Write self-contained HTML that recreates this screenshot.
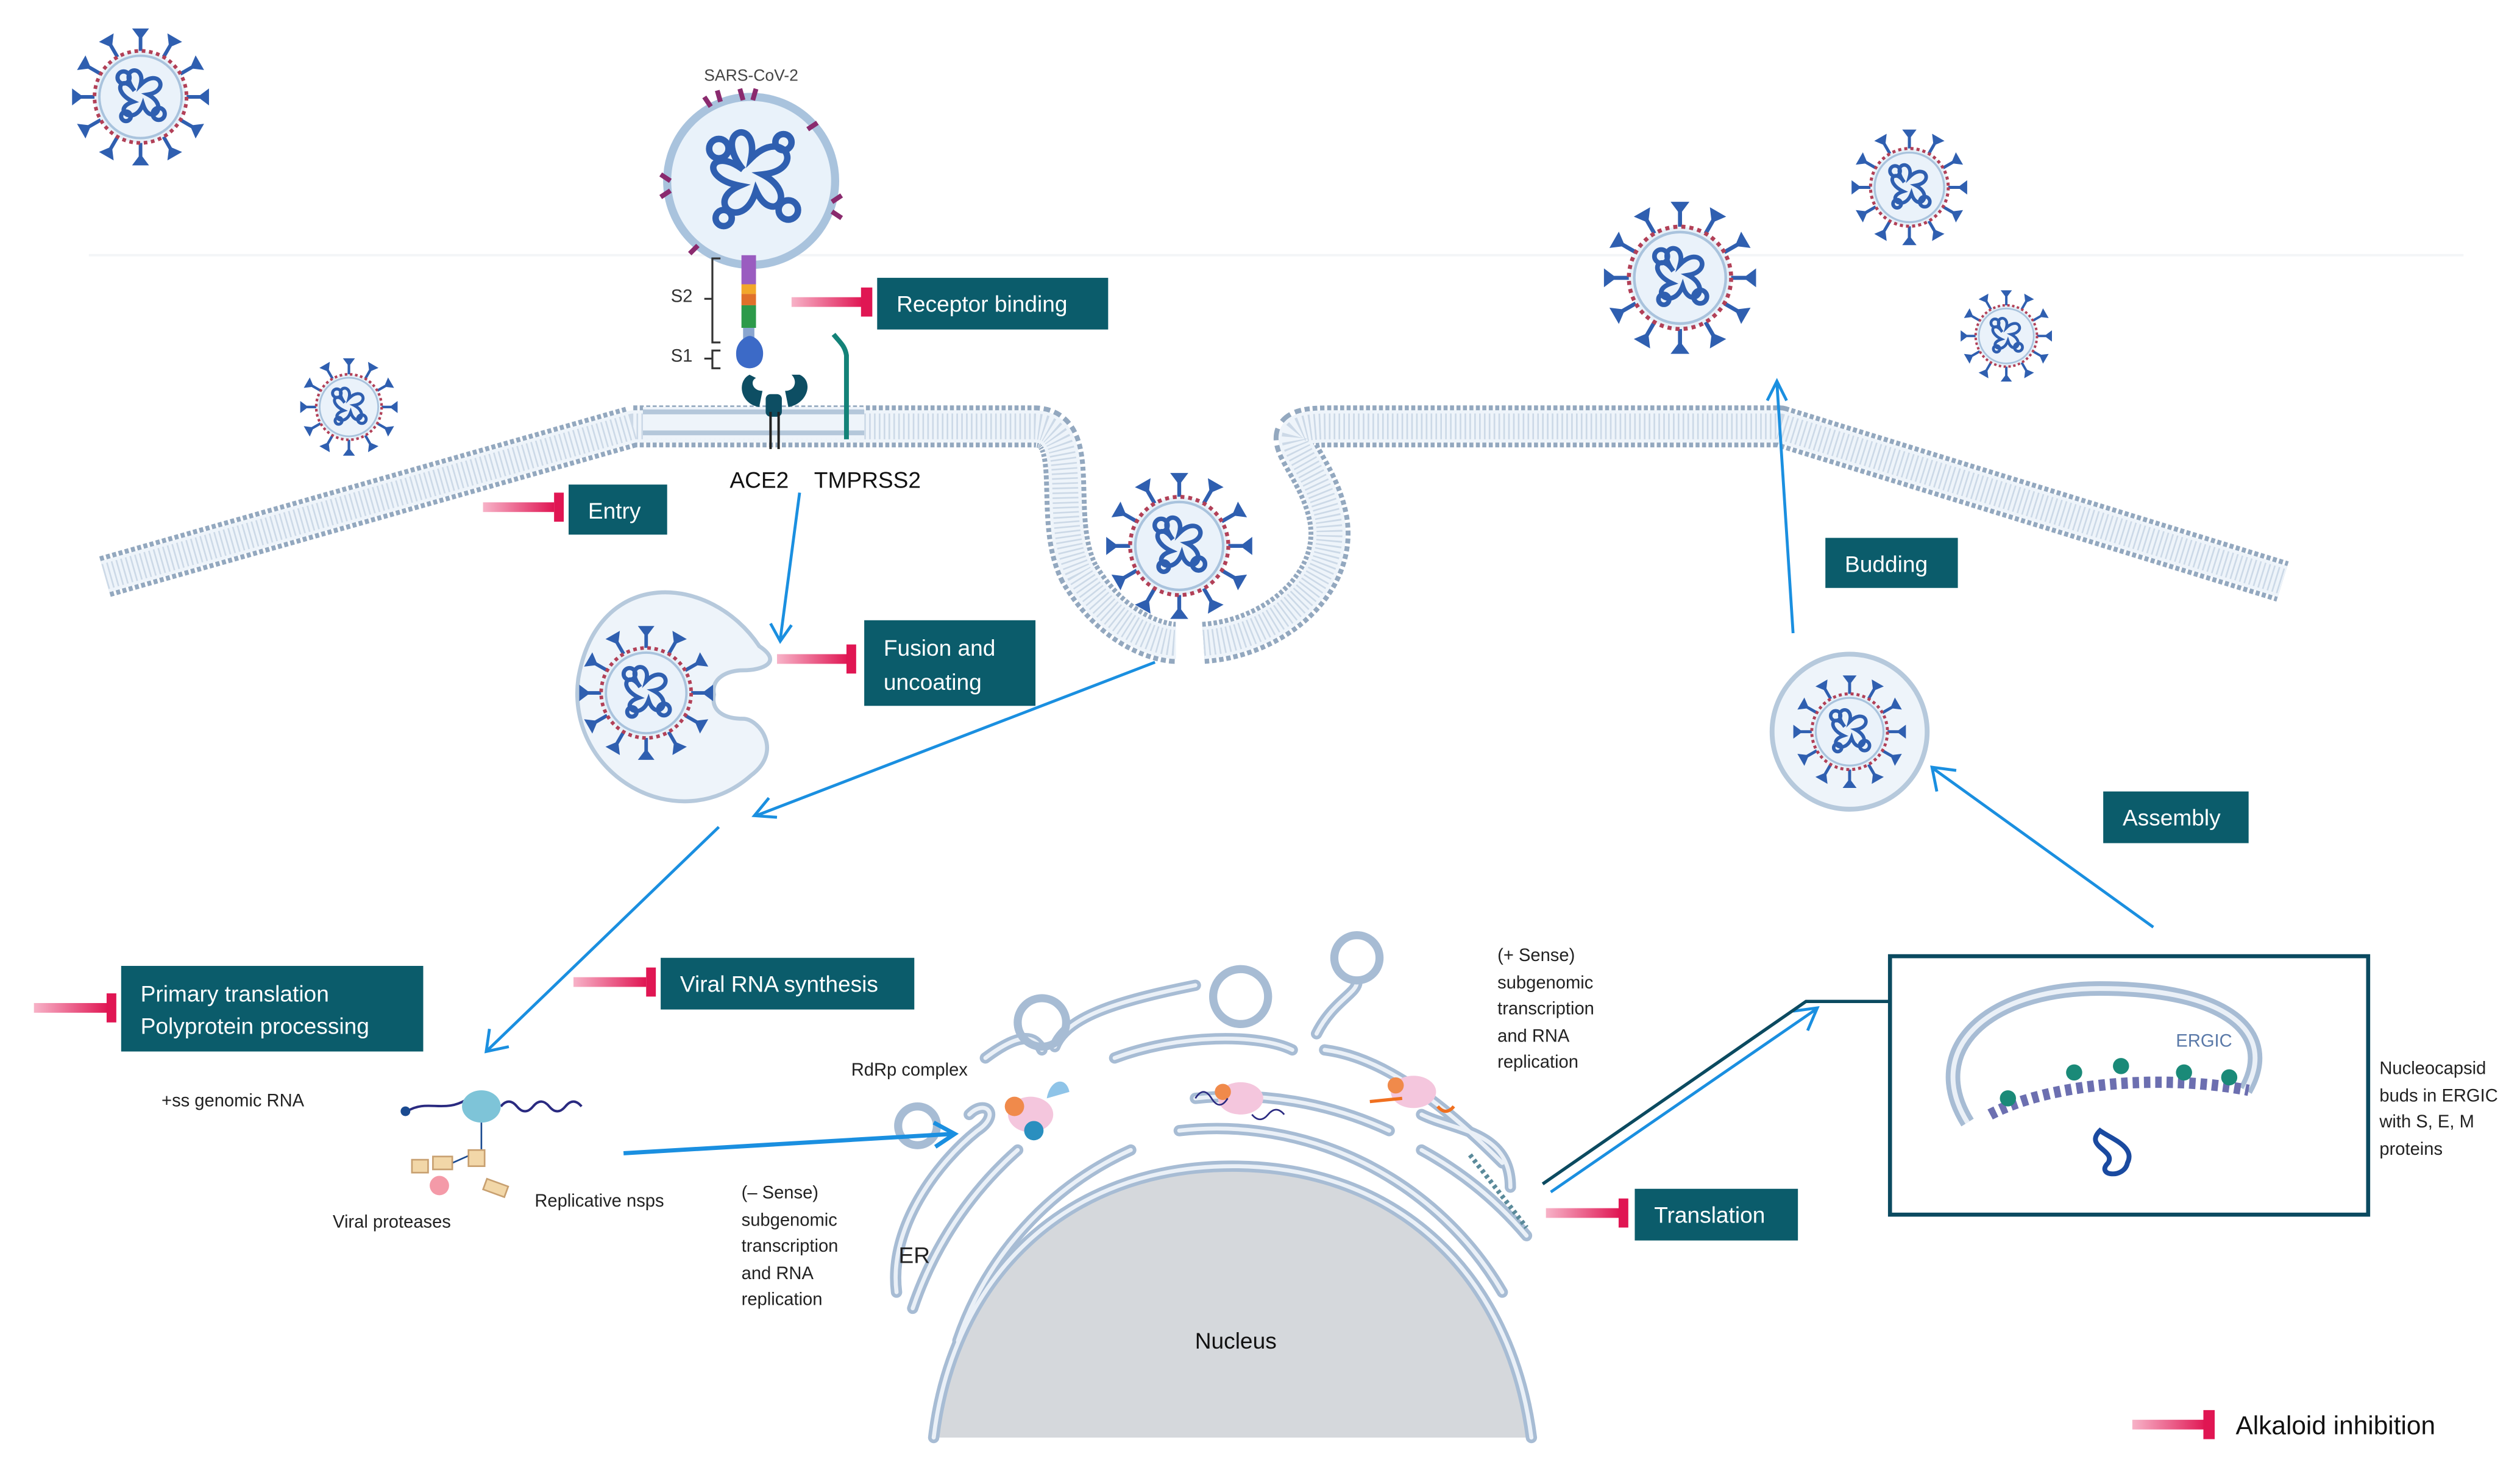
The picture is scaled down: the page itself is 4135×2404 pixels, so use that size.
<!DOCTYPE html>
<html><head><meta charset="utf-8">
<style>
html,body{margin:0;padding:0;background:#fff;}
svg{display:block;}
text{font-family:"Liberation Sans",sans-serif;}
</style></head>
<body>
<svg width="4135" height="2404" viewBox="0 0 1560 907" preserveAspectRatio="none" xmlns="http://www.w3.org/2000/svg">
<defs>
<linearGradient id="pk" x1="0" x2="1"><stop offset="0" stop-color="#f7b3c8"/><stop offset="1" stop-color="#e01653"/></linearGradient>
<symbol id="vir" viewBox="-60 -60 120 120">
 <g stroke="#2f5fb0" stroke-width="3" fill="#2f5fb0">
  <g id="sp"><line x1="0" y1="-38" x2="0" y2="-50"/><path d="M-6,-56 L6,-56 L0,-48 Z" stroke-width="1"/></g>
  <use href="#sp" transform="rotate(30)"/><use href="#sp" transform="rotate(60)"/><use href="#sp" transform="rotate(90)"/>
  <use href="#sp" transform="rotate(120)"/><use href="#sp" transform="rotate(150)"/><use href="#sp" transform="rotate(180)"/>
  <use href="#sp" transform="rotate(210)"/><use href="#sp" transform="rotate(240)"/><use href="#sp" transform="rotate(270)"/>
  <use href="#sp" transform="rotate(300)"/><use href="#sp" transform="rotate(330)"/>
 </g>
 <circle r="38" fill="#e6f0f8" stroke="#b24057" stroke-width="3" stroke-dasharray="3 3"/>
 <circle r="34" fill="#eaf2fa" stroke="#a9c3dd" stroke-width="2"/>
 <g fill="none" stroke="#2f5fb0" stroke-width="3.5">
  <path d="M-5,-5 C-20,-25 5,-28 0,-10 C15,-25 25,-5 6,-2 C25,8 8,25 2,6 C-5,25 -25,10 -6,4 C-25,-5 -15,-20 -5,-5"/>
  <circle cx="-14" cy="-16" r="5"/><circle cx="15" cy="14" r="5"/><circle cx="-12" cy="16" r="4"/>
 </g>
</symbol>
</defs>

<line x1="55" y1="158" x2="1525" y2="158" stroke="#f3f5f7" stroke-width="1.5"/>

<!-- membrane -->
<g fill="none" stroke-linecap="butt" stroke-linejoin="round">
 <path id="mem" d="M65,357 L392,264 L640,264 C672,264 650,320 668,355 C690,392 720,398 728,398 M745,398 C790,395 830,360 822,320 C814,282 780,264 822,264 L1102,264 L1413,360"/>
 <use href="#mem" stroke="#93a8bf" stroke-width="26" stroke-dasharray="2.5 1.5"/>
 <use href="#mem" stroke="#eef4fa" stroke-width="20"/>
 <use href="#mem" stroke="#ccd9e7" stroke-width="16" stroke-dasharray="1 2"/>
 <path d="M398,262 L535,262" stroke="#eef4fa" stroke-width="20"/>
 <path d="M398,255 L535,255 M398,268 L535,268" stroke="#b4c7da" stroke-width="3"/>
</g>

<use href="#vir" x="42" y="15" width="90" height="90"/>
<use href="#vir" x="184" y="220" width="64" height="64"/>
<use href="#vir" x="682" y="290" width="96" height="96"/>
<use href="#vir" x="990" y="122" width="100" height="100"/>
<use href="#vir" x="1144" y="78" width="76" height="76"/>
<use href="#vir" x="1212" y="178" width="60" height="60"/>

<text x="465" y="50" font-size="10" text-anchor="middle" fill="#444">SARS-CoV-2</text>
<circle cx="465" cy="112" r="52" fill="#e9f2fa" stroke="#a9c3dd" stroke-width="5"/>
<g fill="none" stroke="#2f5fb0" stroke-width="4">
 <path d="M460,105 C440,80 470,72 465,98 C485,78 500,105 472,108 C495,120 478,140 468,118 C460,145 435,125 458,115 C432,110 440,90 460,105"/>
 <circle cx="445" cy="92" r="6"/><circle cx="488" cy="130" r="6"/><circle cx="448" cy="135" r="5"/><circle cx="485" cy="88" r="5"/>
</g>
<g stroke="#8a2a6e" stroke-width="3" fill="none">
 <path d="M415,112 l-6,-4 M415,118 l-6,4"/><path d="M515,125 l6,-4 M515,131 l6,4"/><path d="M440,66 l-4,-6 M446,63 l-2,-7"/><path d="M460,62 l-2,-7 M466,62 l2,-7"/><path d="M500,80 l6,-4"/><path d="M432,152 l-5,5"/>
</g>
<rect x="459" y="158" width="9" height="18" fill="#9a5cc0"/>
<rect x="459" y="176" width="9" height="6" fill="#f2a72a"/>
<rect x="459" y="182" width="9" height="7" fill="#e0702a"/>
<rect x="459" y="189" width="9" height="14" fill="#2d9a4a"/>
<rect x="460" y="203" width="7" height="8" fill="#8aa5cf"/>
<path d="M456,222 C454,212 462,208 464,208 C468,208 474,214 472,222 C470,230 458,230 456,222Z" fill="#3c6ac7"/>
<path d="M446,160 L441,160 L441,212 L446,212 M446,217 L441,217 L441,228 L446,228 M436,185 L441,185 M436,222 L441,222" stroke="#333" stroke-width="1.2" fill="none"/>
<text x="422" y="187" font-size="11" text-anchor="middle" fill="#333">S2</text>
<text x="422" y="224" font-size="11" text-anchor="middle" fill="#333">S1</text>
<path d="M464,232 C456,236 458,250 470,252 L472,242 C466,242 464,236 468,234Z M495,232 C504,236 500,250 488,252 L486,242 C492,242 494,236 490,232Z" fill="#0d4e63"/>
<rect x="474" y="244" width="10" height="14" rx="3" fill="#0d4e63"/>
<line x1="477" y1="255" x2="477" y2="278" stroke="#222" stroke-width="1.5"/><line x1="482" y1="255" x2="482" y2="278" stroke="#222" stroke-width="1.5"/>
<path d="M516,207 C520,212 523,214 524,220 L524,272" stroke="#138278" stroke-width="3" fill="none"/>
<text x="470" y="302" font-size="14" text-anchor="middle" fill="#111">ACE2</text>
<text x="537" y="302" font-size="14" text-anchor="middle" fill="#111">TMPRSS2</text>

<path d="M470,400 C440,355 370,350 358,420 C350,480 420,520 465,480 C485,465 470,445 460,445 C448,445 440,440 442,430 C440,420 450,415 460,415 C472,415 485,410 470,400Z" fill="#eef4fa" stroke="#b6c9dc" stroke-width="2.5"/>
<use href="#vir" x="356" y="385" width="88" height="88"/>

<circle cx="1145" cy="453" r="48" fill="#eef4fa" stroke="#b6c9dc" stroke-width="3"/>
<use href="#vir" x="1108" y="416" width="74" height="74"/>

<!-- nucleus & ER -->
<path d="M578,890 C590,790 660,722 763,722 C866,722 935,790 948,890 Z" fill="#d5d8dc"/>
<g fill="none" stroke-linecap="round">
 <g id="er">
  <path d="M578,890 C590,790 660,722 763,722 C866,722 935,790 948,890"/>
  <path d="M593,830 A200,200 0 0 1 700,712 M730,700 A205,205 0 0 1 930,800"/>
  <path d="M565,810 A228,228 0 0 1 630,712 M740,680 A228,228 0 0 1 860,700 M880,712 A228,228 0 0 1 945,765"/>
  <path d="M555,800 C550,760 580,720 605,700 C620,690 610,680 600,690 M610,655 C630,640 640,640 645,650 M690,655 C730,640 780,640 800,650 M820,650 C860,655 900,690 930,720"/>
  <path d="M653,648 C660,630 690,620 740,610 M815,640 C825,620 840,615 840,608 M880,690 C900,700 935,700 935,735"/>
 </g>
 <use href="#er" stroke="#a7bcd4" stroke-width="7"/>
 <use href="#er" stroke="#eaf0f7" stroke-width="2.5"/>
 <g stroke="#a7bcd4" stroke-width="5">
  <circle cx="568" cy="697" r="12"/><circle cx="768" cy="617" r="17"/><circle cx="840" cy="593" r="14"/>
  <circle cx="645" cy="633" r="15"/>
 </g>
</g>
<g>
 <ellipse cx="638" cy="690" rx="14" ry="11" fill="#f4c6dd"/><circle cx="628" cy="685" r="6" fill="#f08a4b"/><circle cx="640" cy="700" r="6" fill="#2a8fbf"/><path d="M648,680 C650,668 660,666 662,676 Z" fill="#8fc4e8"/>
 <ellipse cx="768" cy="680" rx="14" ry="10" fill="#f4c6dd"/><circle cx="757" cy="676" r="5" fill="#f08a4b"/><path d="M740,680 q5,-8 10,0 q5,8 10,0 M775,690 q5,6 10,0 q5,-6 10,0" stroke="#2a2a80" fill="none"/>
 <ellipse cx="875" cy="676" rx="14" ry="10" fill="#f4c6dd"/><circle cx="864" cy="672" r="5" fill="#f08a4b"/><path d="M890,685 q5,6 10,0 M848,682 l20,-2" stroke="#f07020" stroke-width="2" fill="none"/>
 <path d="M910,715 L945,760" stroke="#5a8a9a" stroke-width="3" stroke-dasharray="2 2"/>
</g>
<text x="563" y="666" font-size="11" text-anchor="middle" fill="#222">RdRp complex</text>
<text x="566" y="782" font-size="14" text-anchor="middle" fill="#222">ER</text>
<text x="765" y="835" font-size="14" text-anchor="middle" fill="#111">Nucleus</text>
<g font-size="11" fill="#222">
 <text x="459" y="742">(– Sense)</text><text x="459" y="759">subgenomic</text><text x="459" y="775">transcription</text><text x="459" y="792">and RNA</text><text x="459" y="808">replication</text>
 <text x="927" y="595">(+ Sense)</text><text x="927" y="612">subgenomic</text><text x="927" y="628">transcription</text><text x="927" y="645">and RNA</text><text x="927" y="661">replication</text>
 <text x="1473" y="665">Nucleocapsid</text><text x="1473" y="682">buds in ERGIC</text><text x="1473" y="698">with S, E, M</text><text x="1473" y="715">proteins</text>
 <text x="100" y="685">+ss genomic RNA</text>
 <text x="206" y="760">Viral proteases</text>
 <text x="331" y="747">Replicative nsps</text>
</g>
<path d="M252,688 C265,680 275,690 290,680 M310,685 q5,-6 10,0 q5,6 10,0 q5,-6 10,0 q5,6 10,0 q5,-6 10,0" stroke="#2a2a80" stroke-width="1.5" fill="none"/>
<circle cx="251" cy="688" r="3" fill="#1a4a90"/>
<ellipse cx="298" cy="685" rx="12" ry="10" fill="#7ec4d8"/>
<path d="M298,695 L298,712 L280,720" stroke="#1a4a90" fill="none"/>
<g fill="#f2d7a8" stroke="#c8a070"><rect x="255" y="718" width="10" height="8"/><rect x="268" y="716" width="12" height="8"/><rect x="290" y="712" width="10" height="10"/><rect x="300" y="732" width="14" height="7" transform="rotate(20 307 735)"/></g>
<circle cx="272" cy="734" r="6" fill="#f49aa8"/>

<rect x="1170" y="592" width="296" height="160" fill="none" stroke="#0b4a60" stroke-width="2.5"/>
<path d="M1218,695 C1190,650 1230,612 1300,612 C1380,612 1410,640 1390,675" fill="none" stroke="#a7bcd4" stroke-width="9"/>
<path d="M1218,695 C1190,650 1230,612 1300,612 C1380,612 1410,640 1390,675" fill="none" stroke="#eaf0f7" stroke-width="3"/>
<text x="1347" y="648" font-size="11" fill="#5a79a8">ERGIC</text>
<path d="M1232,690 C1270,670 1340,665 1392,675" stroke="#6c6fb0" stroke-width="7" stroke-dasharray="4 3" fill="none"/>
<g fill="#1a8a78"><circle cx="1243" cy="680" r="5"/><circle cx="1284" cy="664" r="5"/><circle cx="1313" cy="660" r="5"/><circle cx="1352" cy="664" r="5"/><circle cx="1380" cy="667" r="5"/></g>
<path d="M1300,700 c-10,10 10,12 5,20 c-8,8 10,10 12,0 c5,-10 -10,-15 -17,-20Z" fill="none" stroke="#1a4aa0" stroke-width="3"/>

<g stroke="#1a8fe0" fill="none" stroke-width="1.8">
 <path d="M495,305 L483,396 M477,386 L483,397 L490,387"/>
 <path d="M715,410 L468,505 M476,494 L467,505 L481,506"/>
 <path d="M445,512 L302,650 M303,637 L301,651 L315,648"/>
 <path d="M386,714 L590,702 M578,695 L591,702 L579,710" stroke-width="2.6"/>
 <path d="M1110,392 L1100,237 M1094,248 L1100,236 L1106,248"/>
 <path d="M1333,574 L1197,476 M1199,490 L1196,475 L1211,477"/>
 <path d="M960,738 L1124,625 M1110,626 L1125,624 L1119,638"/>
</g>
<path d="M955,733 L1118,620 L1170,620" stroke="#0b4a60" stroke-width="2" fill="none"/>

<g>
 <rect x="490" y="184" width="44" height="6" fill="url(#pk)"/><rect x="533" y="178" width="7" height="18" fill="#e01653"/>
 <rect x="299" y="311" width="44" height="6" fill="url(#pk)"/><rect x="343" y="305" width="6" height="18" fill="#e01653"/>
 <rect x="481" y="405" width="44" height="6" fill="url(#pk)"/><rect x="524" y="399" width="6" height="18" fill="#e01653"/>
 <rect x="21" y="621" width="46" height="6" fill="url(#pk)"/><rect x="66" y="615" width="6" height="18" fill="#e01653"/>
 <rect x="355" y="605" width="45" height="6" fill="url(#pk)"/><rect x="400" y="599" width="6" height="18" fill="#e01653"/>
 <rect x="957" y="748" width="46" height="6" fill="url(#pk)"/><rect x="1002" y="742" width="6" height="18" fill="#e01653"/>
 <rect x="1320" y="879" width="46" height="6" fill="url(#pk)"/><rect x="1364" y="873" width="7" height="18" fill="#e01653"/>
</g>
<g fill="#0b5c6b">
 <rect x="543" y="172" width="143" height="32"/>
 <rect x="352" y="300" width="61" height="31"/>
 <rect x="535" y="384" width="106" height="53"/>
 <rect x="1130" y="333" width="82" height="31"/>
 <rect x="1302" y="490" width="90" height="32"/>
 <rect x="75" y="598" width="187" height="53"/>
 <rect x="409" y="593" width="157" height="32"/>
 <rect x="1012" y="736" width="101" height="32"/>
</g>
<g fill="#fff" font-size="14">
 <text x="555" y="193">Receptor binding</text>
 <text x="364" y="321">Entry</text>
 <text x="547" y="406">Fusion and</text><text x="547" y="427">uncoating</text>
 <text x="1142" y="354">Budding</text>
 <text x="1314" y="511">Assembly</text>
 <text x="87" y="620">Primary translation</text><text x="87" y="640">Polyprotein processing</text>
 <text x="421" y="614">Viral RNA synthesis</text>
 <text x="1024" y="757">Translation</text>
</g>
<text x="1384" y="888" font-size="16" fill="#111">Alkaloid inhibition</text>
</svg>
</body></html>
